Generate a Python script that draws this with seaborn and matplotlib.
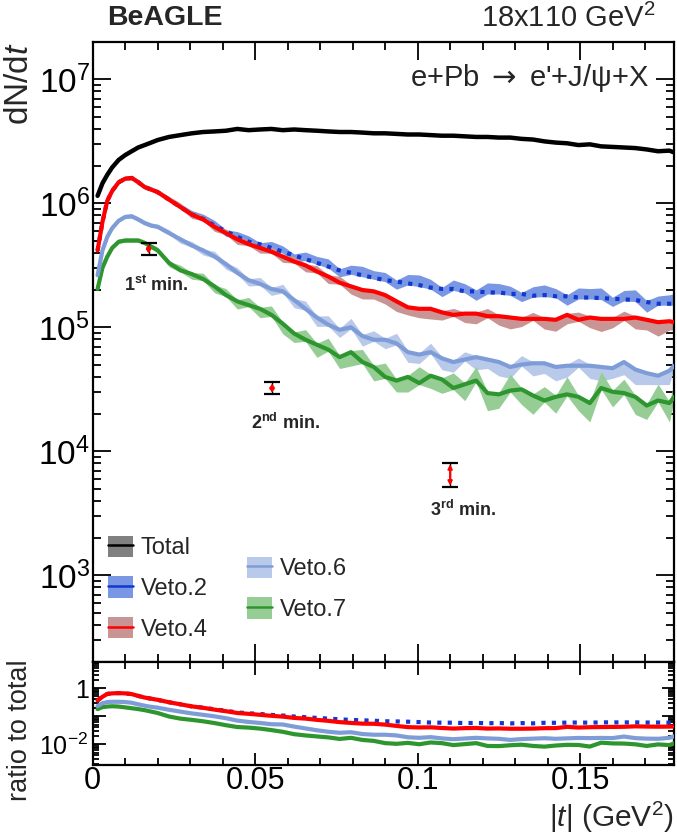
import numpy as np
import matplotlib
matplotlib.use("Agg")
import matplotlib.pyplot as plt
import seaborn as sns
from matplotlib.patches import Patch
from matplotlib.lines import Line2D
from matplotlib.ticker import LogLocator, MultipleLocator, FuncFormatter, NullFormatter

sns.set_theme(style="ticks")
plt.rcParams["font.family"] = ["Liberation Sans", "DejaVu Sans"]
plt.rcParams["mathtext.fontset"] = "custom"
plt.rcParams["mathtext.rm"] = "Liberation Sans"
plt.rcParams["mathtext.it"] = "Liberation Sans:italic"
plt.rcParams["mathtext.bf"] = "Liberation Sans:bold"
plt.rcParams["mathtext.sf"] = "DejaVu Sans"

# |t| bin centres (GeV^2)
t = [0.0015, 0.003, 0.0045, 0.006, 0.008, 0.010, 0.012, 0.014, 0.016, 0.018,
     0.020, 0.0235, 0.027, 0.0305, 0.034, 0.0375, 0.041, 0.0445, 0.048, 0.0515,
     0.055, 0.0585, 0.062, 0.0655, 0.069, 0.0725, 0.076, 0.0795, 0.083, 0.0865,
     0.090, 0.0935, 0.097, 0.1005, 0.104, 0.1075, 0.111, 0.1145, 0.118, 0.1215,
     0.125, 0.1285, 0.132, 0.1355, 0.139, 0.1425, 0.146, 0.1495, 0.153, 0.1565,
     0.160, 0.1635, 0.167, 0.1705, 0.174, 0.1775, 0.179]

total = [1.15e6, 1.45e6, 1.70e6, 1.95e6, 2.24e6, 2.45e6, 2.63e6, 2.82e6, 2.95e6, 3.09e6,
         3.24e6, 3.43e6, 3.55e6, 3.67e6, 3.76e6, 3.80e6, 3.85e6, 3.98e6, 3.89e6, 3.94e6,
         3.98e6, 3.89e6, 3.94e6, 3.89e6, 3.85e6, 3.80e6, 3.76e6, 3.76e6, 3.72e6, 3.67e6,
         3.67e6, 3.63e6, 3.59e6, 3.59e6, 3.55e6, 3.51e6, 3.51e6, 3.47e6, 3.43e6, 3.43e6,
         3.39e6, 3.39e6, 3.31e6, 3.27e6, 3.16e6, 3.09e6, 3.05e6, 2.95e6, 2.99e6, 2.88e6,
         2.85e6, 2.82e6, 2.79e6, 2.72e6, 2.63e6, 2.66e6, 2.57e6]

veto2 = [4.17e5, 7.08e5, 1.05e6, 1.26e6, 1.48e6, 1.58e6, 1.60e6, 1.48e6, 1.35e6, 1.29e6,
         1.23e6, 1.07e6, 9.33e5, 8.13e5, 7.50e5, 6.61e5, 5.96e5, 5.37e5, 4.90e5, 4.68e5,
         4.37e5, 4.07e5, 3.80e5, 3.55e5, 3.31e5, 3.09e5, 2.88e5, 2.75e5, 2.63e5, 2.51e5,
         2.40e5, 2.34e5, 2.26e5, 2.19e5, 2.09e5, 2.04e5, 2.04e5, 1.95e5, 1.95e5, 1.91e5,
         1.91e5, 1.86e5, 1.86e5, 1.80e5, 1.82e5, 1.78e5, 1.78e5, 1.74e5, 1.74e5, 1.72e5,
         1.70e5, 1.68e5, 1.66e5, 1.60e5, 1.55e5, 1.55e5, 1.55e5]

veto4 = [4.17e5, 7.08e5, 1.05e6, 1.26e6, 1.48e6, 1.58e6, 1.60e6, 1.48e6, 1.35e6, 1.29e6,
         1.23e6, 1.07e6, 9.33e5, 8.13e5, 7.41e5, 6.46e5, 5.75e5, 5.13e5, 4.68e5, 4.37e5,
         4.07e5, 3.72e5, 3.39e5, 3.16e5, 2.82e5, 2.57e5, 2.29e5, 2.14e5, 2.00e5, 1.95e5,
         1.82e5, 1.62e5, 1.45e5, 1.41e5, 1.41e5, 1.32e5, 1.26e5, 1.29e5, 1.29e5, 1.23e5,
         1.23e5, 1.20e5, 1.17e5, 1.17e5, 1.17e5, 1.15e5, 1.26e5, 1.15e5, 1.20e5, 1.17e5,
         1.17e5, 1.17e5, 1.20e5, 1.15e5, 1.10e5, 1.12e5, 1.10e5]

veto6 = [2.63e5, 4.17e5, 5.37e5, 6.31e5, 7.24e5, 7.76e5, 7.85e5, 7.41e5, 6.92e5, 6.61e5,
         6.46e5, 5.75e5, 5.13e5, 4.57e5, 4.17e5, 3.72e5, 3.24e5, 2.75e5, 2.40e5, 2.24e5,
         2.04e5, 1.95e5, 1.66e5, 1.41e5, 1.20e5, 1.05e5, 9.55e4, 1.00e5, 8.51e4, 7.94e4,
         7.94e4, 7.41e4, 6.31e4, 6.03e4, 6.31e4, 5.62e4, 5.25e4, 5.50e4, 5.75e4, 5.50e4,
         5.25e4, 4.79e4, 5.01e4, 5.13e4, 5.13e4, 4.79e4, 4.90e4, 4.90e4, 4.90e4, 4.79e4,
         4.68e4, 5.25e4, 4.57e4, 4.27e4, 4.07e4, 4.47e4, 4.90e4]

veto7 = [2.04e5, 3.02e5, 3.72e5, 4.37e5, 4.90e5, 5.01e5, 5.01e5, 5.01e5, 4.79e5, 4.47e5,
         4.17e5, 3.31e5, 2.88e5, 2.69e5, 2.45e5, 2.14e5, 1.82e5, 1.62e5, 1.51e5, 1.41e5,
         1.26e5, 1.07e5, 8.91e4, 7.94e4, 7.24e4, 6.61e4, 5.75e4, 6.31e4, 5.25e4, 4.79e4,
         3.98e4, 3.72e4, 3.98e4, 3.55e4, 4.07e4, 3.80e4, 3.24e4, 3.47e4, 3.72e4, 2.95e4,
         2.88e4, 3.09e4, 3.16e4, 2.82e4, 2.57e4, 2.75e4, 2.88e4, 2.75e4, 2.45e4, 3.24e4,
         3.02e4, 2.95e4, 2.75e4, 2.34e4, 2.57e4, 2.45e4, 2.75e4]

# systematic spread of each veto sample (signed offset, in decades)
veto2_sys = [0.01, 0.01, 0.01, 0.01, 0.01, 0.01, 0.01, 0.01, 0.01, 0.01,
             0.01, 0.01, 0.015, 0.02, 0.025, 0.03, -0.03, 0.03, 0.035, -0.03,
             0.04, 0.035, -0.04, 0.045, 0.04, 0.05, -0.04, 0.05, 0.06, 0.045,
             0.05, -0.05, 0.06, 0.07, 0.055, -0.05, 0.06, 0.05, -0.06, 0.065,
             0.06, 0.05, -0.05, 0.06, 0.07, 0.05, -0.06, 0.065, 0.06, 0.07,
             -0.05, 0.06, 0.07, -0.07, 0.05, 0.06, 0.07]
veto4_sys = [0.01, 0.01, 0.01, 0.01, 0.01, 0.01, 0.01, 0.01, 0.01, 0.01,
             0.01, 0.015, 0.02, -0.02, 0.02, -0.025, 0.02, -0.03, 0.025, -0.03,
             0.03, -0.035, 0.03, -0.04, 0.035, -0.045, 0.04, -0.05, -0.06, -0.05,
             -0.06, -0.07, -0.05, -0.06, -0.07, -0.05, 0.04, -0.06, -0.07, 0.05,
             -0.06, -0.08, -0.05, 0.04, -0.07, -0.08, -0.06, 0.05, -0.07, -0.09,
             -0.06, 0.05, -0.08, -0.07, -0.10, -0.06, -0.05]
veto6_sys = [0.01, 0.01, 0.01, 0.01, 0.01, 0.01, 0.01, 0.01, 0.01, 0.01,
             0.01, 0.015, -0.02, 0.02, -0.025, 0.03, -0.03, 0.03, -0.035, 0.04,
             -0.04, 0.045, -0.05, 0.05, -0.06, 0.06, -0.05, 0.06, -0.07, 0.06,
             -0.06, 0.07, -0.07, -0.06, 0.06, -0.08, -0.07, 0.05, -0.09, -0.06,
             -0.10, -0.08, 0.06, -0.09, -0.07, -0.10, -0.08, 0.05, -0.09, -0.10,
             -0.07, -0.09, -0.11, -0.08, -0.06, -0.10, 0.05]
veto7_sys = [0.01, 0.01, 0.01, 0.01, 0.01, 0.01, 0.01, 0.01, 0.01, 0.01,
             0.015, -0.02, 0.03, -0.03, 0.035, -0.04, 0.04, -0.05, 0.05, -0.06,
             0.06, -0.07, -0.06, 0.07, -0.09, 0.08, -0.08, -0.10, 0.09, -0.10,
             0.10, -0.08, -0.11, 0.12, -0.09, -0.10, 0.11, -0.12, 0.10, -0.13,
             -0.10, 0.12, -0.11, -0.14, 0.10, -0.12, 0.13, -0.10, -0.14, 0.12,
             -0.11, 0.10, -0.13, -0.10, 0.12, -0.14, 0.11]

# diffractive minima markers
min_t = [0.0172, 0.0552, 0.110]
min_lo = [3.85e5, 2.9e4, 5.2e3]
min_hi = [4.8e5, 3.6e4, 8.0e3]
min_labels = ["1$^{\\mathbf{st}}$ min.", "2$^{\\mathbf{nd}}$ min.", "3$^{\\mathbf{rd}}$ min."]

series = [
    # name, values, spread, line colour, band colour, linestyle
    ("Veto.2", veto2, veto2_sys, "#1238d2", "#7a97e3", (0, (1, 1.5))),
    ("Veto.4", veto4, veto4_sys, "#ff0000", "#c99494", "-"),
    ("Veto.6", veto6, veto6_sys, "#7e9dd8", "#b9c9ea", "-"),
    ("Veto.7", veto7, veto7_sys, "#2e962e", "#95cd95", "-"),
]
draw_order = ["Veto.7", "Veto.6", "Veto.2", "Veto.4"]

W, H = 677, 834
fig = plt.figure(figsize=(W / 100, H / 100), dpi=100)
ax = fig.add_axes([92.7 / W, 1 - 662 / H, 581.6 / W, 620 / H])
rax = fig.add_axes([92.7 / W, 1 - 765 / H, 581.6 / W, 103 / H])

tt = np.array(t)
tot = np.array(total)

# bands
for name, vals, sys_, lc, bc, ls in series:
    v = np.array(vals)
    s = np.array(sys_)
    lo = v * 10 ** (np.minimum(s, 0) - 0.012)
    hi = v * 10 ** (np.maximum(s, 0) + 0.012)
    ax.fill_between(tt, lo, hi, color=bc, lw=0, zorder=1)

# curves
sns.lineplot(x=tt, y=tot, ax=ax, color="black", lw=3.2, estimator=None, zorder=5)
lookup = {s[0]: s for s in series}
for name in draw_order:
    _, vals, _, lc, _, ls = lookup[name]
    v = np.array(vals)
    sns.lineplot(x=tt, y=v, ax=ax, color=lc, lw=3.0, linestyle=ls, estimator=None, zorder=4)
    sns.lineplot(x=tt, y=v / tot, ax=rax, color=lc, lw=3.0, linestyle=ls, estimator=None, zorder=4)

# minima
for x, lo, hi, lab in zip(min_t, min_lo, min_hi, min_labels):
    ax.errorbar([x], [np.sqrt(lo * hi)], yerr=[[np.sqrt(lo * hi) - lo], [hi - np.sqrt(lo * hi)]],
                fmt="none", ecolor="black", elinewidth=1.0, capsize=6, capthick=1.6, zorder=6)
    ax.annotate("", xy=(x, hi * 0.985), xytext=(x, lo * 1.015),
                arrowprops=dict(arrowstyle="<|-|>", color="red", lw=1.5, mutation_scale=6,
                                shrinkA=0, shrinkB=0), zorder=7)
dx = [8, 13, 13]
dy = [30, 29, 23]
for x, lo, lab, ox, oy in zip(min_t, min_lo, min_labels, dx, dy):
    ax.annotate(lab, xy=(x, lo), xytext=(ox, -oy), textcoords="offset pixels",
                ha="center", va="center", fontsize=13, fontweight="bold")

# axes styling
for a in (ax, rax):
    a.set_yscale("log")
    a.set_xlim(0, 0.179)
    a.xaxis.set_major_locator(MultipleLocator(0.05))
    a.xaxis.set_minor_locator(MultipleLocator(0.01))
    for sp in a.spines.values():
        sp.set_linewidth(1.6)
        sp.set_color("black")
    a.set_xlabel("")
    a.set_ylabel("")

ax.set_ylim(200, 2e7)
ax.yaxis.set_major_locator(LogLocator(base=10, numticks=12))
ax.yaxis.set_minor_locator(LogLocator(base=10, subs=np.arange(2, 10), numticks=12))
ax.yaxis.set_minor_formatter(NullFormatter())
ax.tick_params(which="both", direction="in", top=True, right=True, width=1.3, colors="black")
ax.tick_params(which="major", length=13)
ax.tick_params(which="minor", length=6)
ax.tick_params(axis="y", labelsize=24, pad=2)
ax.tick_params(axis="x", labelbottom=False)

rax.set_ylim(1.8e-3, 8.5)
rax.yaxis.set_major_locator(LogLocator(base=10, numticks=12))
rax.yaxis.set_minor_locator(LogLocator(base=10, subs=np.arange(2, 10), numticks=12))
rax.yaxis.set_minor_formatter(NullFormatter())


def ratio_fmt(v, pos):
    if np.isclose(v, 1):
        return "1"
    if np.isclose(v, 1e-2):
        return "$\\mathregular{10^{-2}}$"
    return ""


rax.yaxis.set_major_formatter(FuncFormatter(ratio_fmt))
rax.tick_params(which="both", direction="in", top=True, right=True, width=1.3, colors="black")
rax.tick_params(axis="y", which="major", length=9)
rax.tick_params(axis="y", which="minor", length=4)
rax.tick_params(axis="x", which="major", length=9)
rax.tick_params(axis="x", which="minor", length=5)
rax.tick_params(axis="y", labelsize=18, pad=3)
rax.tick_params(axis="x", labelsize=22, pad=1)
rax.xaxis.set_major_formatter(FuncFormatter(lambda v, p: "0" if v == 0 else f"{v:g}"))

# legends
def handle(band, line):
    return (Patch(facecolor=band, edgecolor="none"), Line2D([], [], color=line, lw=1.8))


leg_kw = dict(frameon=False, fontsize=17, handlelength=1.05, handleheight=1.0,
              handletextpad=0.35, labelspacing=0.73, borderpad=0, borderaxespad=0, loc="upper left")
leg1 = ax.legend([handle("#808080", "black"), handle(lookup["Veto.2"][4], lookup["Veto.2"][3]),
                  handle(lookup["Veto.4"][4], lookup["Veto.4"][3])],
                 ["Total", "Veto.2", "Veto.4"], bbox_to_anchor=(0.026, 0.204), **leg_kw)
ax.add_artist(leg1)
ax.legend([handle(lookup["Veto.6"][4], lookup["Veto.6"][3]),
           handle(lookup["Veto.7"][4], lookup["Veto.7"][3])],
          ["Veto.6", "Veto.7"], bbox_to_anchor=(0.265, 0.170), **leg_kw)

# texts
fig.text(107 / W, 1 - 18 / H, "BeAGLE", fontsize=20.5, fontweight="bold", ha="left", va="center")
fig.text(655 / W, 1 - 18 / H, "18x110 GeV$^2$", fontsize=21, ha="right", va="center")
fig.text(649 / W, 1 - 78 / H, "e+Pb $\\mathsf{\\rightarrow}$ e'+J/\u03c8+X", fontsize=21, ha="right", va="center")
fig.text(20 / W, 1 - 84 / H, "dN/d$t$", fontsize=24, rotation=90, ha="center", va="center")
fig.text(20 / W, 1 - 730 / H, "ratio to total", fontsize=19.5, rotation=90, ha="center", va="center")
fig.text(674 / W, 1 - 817 / H, "|$t$| (GeV$^2$)", fontsize=21.5, ha="right", va="center")

fig.savefig("out.png", dpi=100)
